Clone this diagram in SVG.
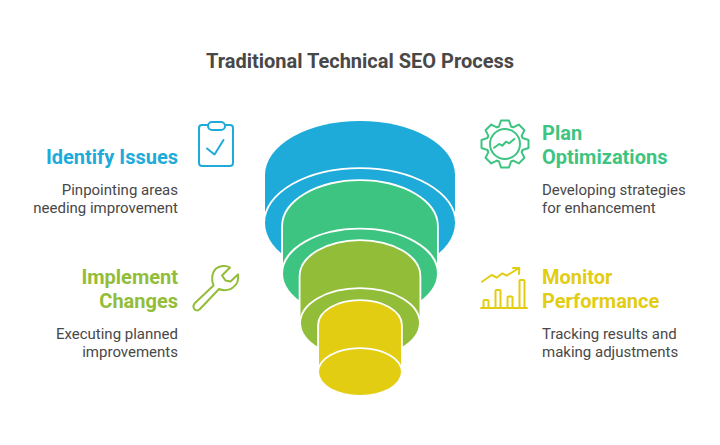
<svg xmlns="http://www.w3.org/2000/svg" width="720" height="445" viewBox="0 0 720 445">
<style>
.t{font-family:Roboto,"Liberation Sans",sans-serif}
.title{font-size:20px;font-weight:700;fill:#484848;text-anchor:middle}
.h{font-size:20px;font-weight:700}
.b{font-size:15px;fill:#484848}
.e{text-anchor:end}
.s{stroke:#fff;stroke-width:3.600;paint-order:stroke}
.i{fill:none;stroke-width:2;stroke-linecap:round;stroke-linejoin:round}
</style>
<defs>
<path id="tooth" d="M-7.080-17.090L-6-17.500L-4-23.500H4L6-17.500L7.080-17.090"/>
</defs>
<rect width="720" height="445" fill="#fff"/>
<text class="t title" x="360" y="68">Traditional Technical SEO Process</text>
<g id="funnel">
<g id="stage-blue" fill="#1eabda">
<path class="s" d="M265 175A95 54 0 0 1 455 175V223H265Z"/>
<ellipse class="s" cx="360" cy="223" rx="95" ry="54"/>
</g>
<g id="stage-green" fill="#3ec481">
<path class="s" d="M283 226A77 45 0 0 1 437 226V273H283Z"/>
<ellipse class="s" cx="360" cy="273.500" rx="77" ry="44"/>
</g>
<g id="stage-olive" fill="#92bd39">
<path class="s" d="M300.500 276A59.500 35 0 0 1 419.500 276V323H300.500Z"/>
<ellipse class="s" cx="360" cy="323" rx="59" ry="34"/>
</g>
<g id="stage-yellow" fill="#e2cd13">
<path class="s" d="M319 325A41 24 0 0 1 401 325V372H319Z"/>
<ellipse class="s" cx="360" cy="372" rx="41" ry="23"/>
</g>
</g>
<g id="identify">
<text class="t h e" x="178" y="164" fill="#1eabda">Identify Issues</text>
<text class="t b e" x="178" y="195">Pinpointing areas</text>
<text class="t b e" x="178" y="213">needing improvement</text>
<g class="i" stroke="#1eabda">
<rect x="199" y="125" width="34" height="41" rx="3"/>
<rect x="208" y="122" width="17" height="8" rx="4" fill="#fff"/>
<path d="M207 148.500L214.500 154.500L223.500 140"/>
</g>
</g>
<g id="plan">
<text class="t h" x="542" y="140" fill="#3ec481">Plan</text>
<text class="t h" x="542" y="164" fill="#3ec481">Optimizations</text>
<text class="t b" x="542" y="195">Developing strategies</text>
<text class="t b" x="542" y="213">for enhancement</text>
<g class="i" stroke="#3ec481" transform="translate(505 144)">
<use href="#tooth"/>
<use href="#tooth" transform="rotate(45)"/>
<use href="#tooth" transform="rotate(90)"/>
<use href="#tooth" transform="rotate(135)"/>
<use href="#tooth" transform="rotate(180)"/>
<use href="#tooth" transform="rotate(225)"/>
<use href="#tooth" transform="rotate(270)"/>
<use href="#tooth" transform="rotate(315)"/>
<circle r="15"/>
<path d="M-11 3.700L-5.700 0L-2.700 1.700L1-2.300L4.300-.7L9.300-5"/>
</g>
</g>
<g id="implement">
<text class="t h e" x="178" y="284" fill="#92bd39">Implement</text>
<text class="t h e" x="178" y="308" fill="#92bd39">Changes</text>
<text class="t b e" x="178" y="339">Executing planned</text>
<text class="t b e" x="178" y="357">improvements</text>
<path class="i" stroke="#92bd39" d="M195 303L213.500 285.500C211 279 212 272 216 268.500C220 265.500 226 265 230 267.500L222 275.500L225.500 280.500L230.500 281.500L238 274.500C239 280 237 284.500 233 287.500C229 290.500 223 291 219 289L199.500 309.500C196 312.500 191 307.500 195 303Z"/>
</g>
<g id="monitor">
<text class="t h" x="542" y="284" fill="#e2cd13">Monitor</text>
<text class="t h" x="542" y="308" fill="#e2cd13">Performance</text>
<text class="t b" x="542" y="339">Tracking results and</text>
<text class="t b" x="542" y="357">making adjustments</text>
<g class="i" stroke="#e2cd13">
<path d="M481 308H527"/>
<path d="M483.500 308V301Q483.500 300 484.500 300H487.500Q488.500 300 488.500 301V308"/>
<path d="M495.500 308V291Q495.500 290 496.500 290H499.500Q500.500 290 500.500 291V308"/>
<path d="M507.500 308V297.500Q507.500 296.500 508.500 296.500H511.500Q512.500 296.500 512.500 297.500V308"/>
<path d="M519.500 308V281Q519.500 280 520.500 280H523.500Q524.500 280 524.500 281V308"/>
<path d="M482 281.700L491.700 275L496.700 277.700L502.300 273.300L506.700 275.700L519 268M513 268H519.300L519 274"/>
</g>
</g>
</svg>
